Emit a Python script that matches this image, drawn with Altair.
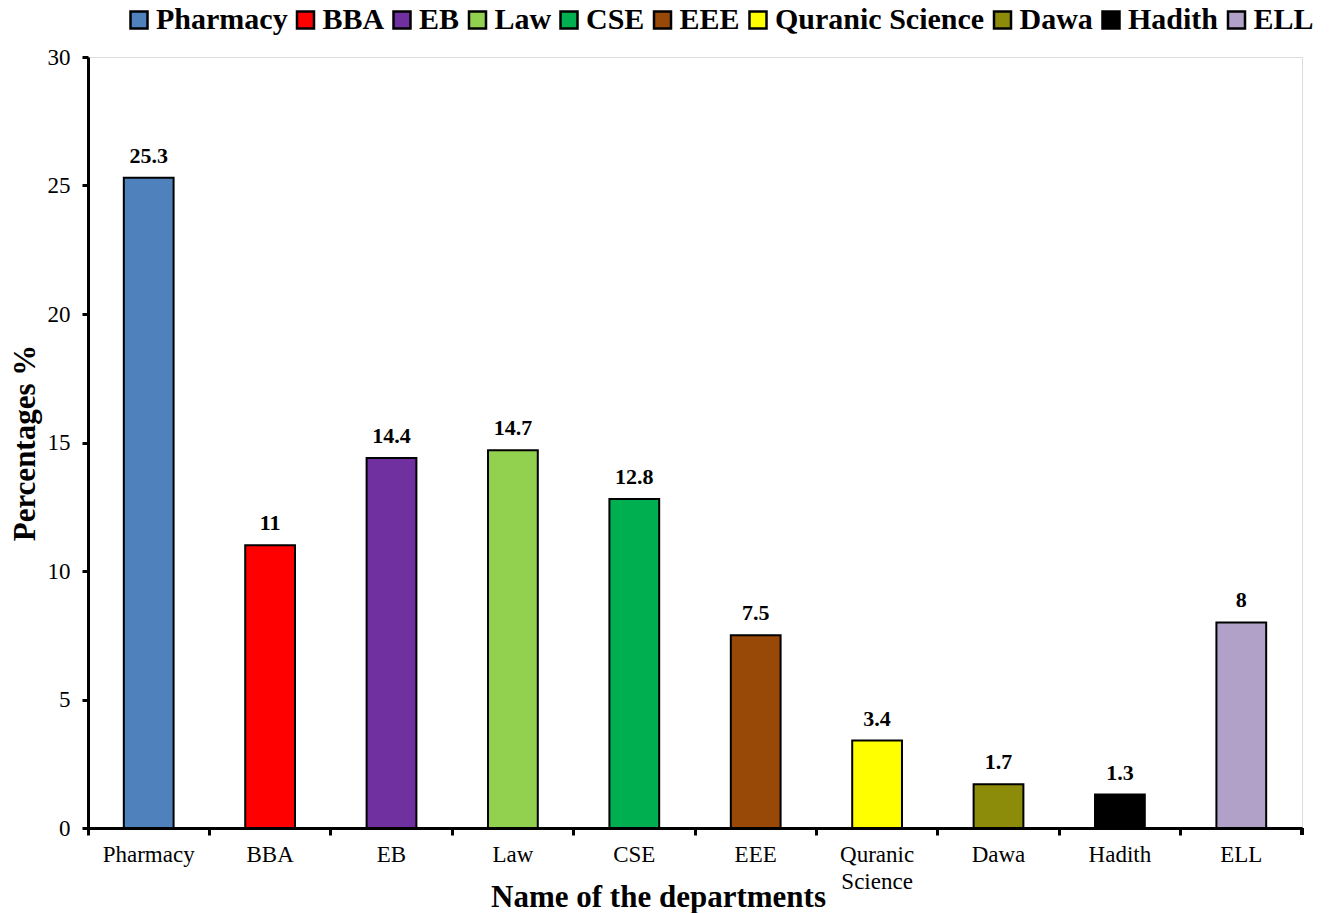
import altair as alt
import pandas as pd

departments = ["Pharmacy", "BBA", "EB", "Law", "CSE", "EEE",
               "Quranic Science", "Dawa", "Hadith", "ELL"]
percentages = [25.3, 11, 14.4, 14.7, 12.8, 7.5, 3.4, 1.7, 1.3, 8]
value_labels = ["25.3", "11", "14.4", "14.7", "12.8", "7.5", "3.4", "1.7", "1.3", "8"]
colors = ["#4F81BD", "#FF0000", "#7030A0", "#92D050", "#00B050", "#984807",
          "#FFFF00", "#8C8C0A", "#000000", "#B1A0C7"]
y_ticks = [0, 5, 10, 15, 20, 25, 30]

df = pd.DataFrame({"dept": departments, "pct": percentages, "label": value_labels})

W, H = 1214, 771
FONT = "Liberation Serif"

x_enc = alt.X(
    "dept:N", sort=departments,
    scale=alt.Scale(paddingInner=0, paddingOuter=0),
    axis=alt.Axis(
        title="Name of the departments", labelAngle=0, bandPosition=0,
        labelExpr="datum.label == 'Quranic Science' ? ['Quranic', 'Science'] : datum.label",
        labelFont=FONT, labelFontSize=23, labelColor="black", labelPadding=8,
        labelBaseline="top", labelLineHeight=27,
        tickSize=7, tickWidth=3, tickColor="black",
        domainColor="black", domainWidth=3,
        titleFont=FONT, titleFontSize=31, titleFontWeight="bold", titleColor="black",
        titleX=570, titleY=78, titleBaseline="alphabetic",
    ),
)
y_enc = alt.Y(
    "pct:Q",
    scale=alt.Scale(domain=[0, 30], nice=False),
    axis=alt.Axis(
        title="Percentages %", values=y_ticks, grid=False,
        labelFont=FONT, labelFontSize=23, labelColor="black", labelPadding=12,
        tickSize=6, tickWidth=3, tickColor="black",
        domainColor="black", domainWidth=3,
        titleFont=FONT, titleFontSize=31, titleFontWeight="bold", titleColor="black",
        titlePadding=6,
    ),
)

color_enc = alt.Color(
    "dept:N", sort=departments,
    scale=alt.Scale(domain=departments, range=colors),
    legend=alt.Legend(
        orient="none", legendX=36, legendY=-52, direction="horizontal",
        title=None, symbolType="square", symbolSize=289,
        symbolStrokeColor="black", symbolStrokeWidth=2.5,
        labelFont=FONT, labelFontSize=30, labelFontWeight="bold", labelColor="black",
        columnPadding=2.5, labelOffset=2, columns=10, labelLimit=400, padding=0,
    ),
)

base = alt.Chart(df)

bars = base.mark_bar(width=alt.RelativeBandSize(0.41), stroke="black", strokeWidth=2).encode(
    x=x_enc, y=y_enc, color=color_enc
)

texts = base.mark_text(
    baseline="bottom", dy=-10, font=FONT, fontSize=22, fontWeight="bold", color="black"
).encode(x=alt.X("dept:N", sort=departments), y="pct:Q", text="label:N")

end_tick = alt.Chart(df).mark_rule(color="black", strokeWidth=3).encode(
    x=alt.value(W), y=alt.value(H), y2=alt.value(H + 7)
)

chart = alt.layer(bars, texts, end_tick).properties(
    width=W, height=H,
    padding={"left": 88, "top": 57, "right": 30, "bottom": 85},
    autosize=alt.AutoSizeParams(type="none"),
    background="white",
).configure_view(stroke=None).configure(font=FONT)

chart.save("out.html", embed_options={"renderer": "svg", "actions": False})
